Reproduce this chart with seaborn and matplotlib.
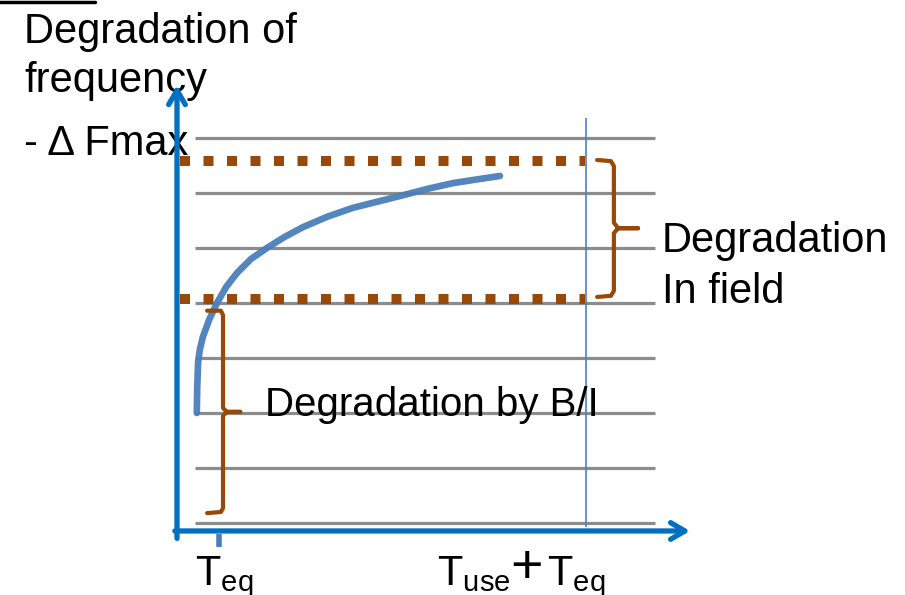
import numpy as np
import matplotlib
matplotlib.use('Agg')
import matplotlib.pyplot as plt
import seaborn as sns
import pandas as pd

sns.set_theme(style="white")
plt.rcParams['font.family'] = ['Liberation Sans', 'DejaVu Sans']
plt.rcParams['mathtext.fontset'] = 'custom'
plt.rcParams['mathtext.rm'] = 'Liberation Sans'

# degradation curve (time, -dF)
curve_t = [0.46, 0.47, 0.49, 0.53, 0.60, 0.75, 0.93, 1.15, 1.40, 1.72, 2.09, 2.50, 2.93, 3.50, 4.09, 4.70, 5.26, 5.85, 6.42, 7.00, 7.51]
curve_f = [2.00, 2.45, 2.91, 3.15, 3.38, 3.70, 4.00, 4.30, 4.55, 4.80, 5.00, 5.20, 5.38, 5.57, 5.73, 5.85, 5.96, 6.08, 6.18, 6.25, 6.31]

grid_levels = [0, 1, 2, 3, 4, 5, 6, 7]
dfmax_top = 6.58
dfmax_bot = 4.07
t_eq = 0.98
t_end = 9.51

# braces
brace_bi_x = [0.70, 1.02, 1.07, 1.07, 1.16, 1.47, 1.16, 1.07, 1.07, 1.02, 0.70]
brace_bi_y = [3.86, 3.86, 3.78, 2.09, 2.02, 2.02, 2.02, 1.95, 0.27, 0.20, 0.18]
brace_fd_x = [9.77, 10.09, 10.16, 10.16, 10.26, 10.72, 10.26, 10.16, 10.16, 10.09, 9.77]
brace_fd_y = [6.60, 6.58, 6.49, 5.46, 5.36, 5.36, 5.36, 5.27, 4.22, 4.13, 4.11]

blue = '#0070C0'
curve_c = '#4A7EBB'
brown = '#984807'
grey = '#8C8C8C'

fig = plt.figure(figsize=(9.05, 5.95), dpi=100)
ax = fig.add_axes([0, 0, 1, 1])
ax.set_xlim(-177 / 43, 728 / 43)
ax.set_ylim(-72 / 55, 523 / 55)
ax.axis('off')

# grey grid
ax.hlines(grid_levels, 0.42, 11.12, color=grey, lw=2.3, zorder=1)

# thin vertical line at Tuse+Teq
ax.vlines(t_end, -0.08, 7.36, color='#4F81BD', lw=1.2, zorder=2)

# dotted max lines
for lvl in [dfmax_top, dfmax_bot]:
    ax.plot([0.07, 9.49], [lvl, lvl], color=brown, lw=7.2, linestyle=(0, (1.0, 1.35)),
            solid_capstyle='butt', dash_capstyle='butt', zorder=3)

# curve
df = pd.DataFrame({'t': curve_t, 'f': curve_f})
sns.lineplot(data=df, x='t', y='f', ax=ax, sort=False, color=curve_c, lw=4.8, alpha=0.95, zorder=4)

# braces
ax.plot(brace_bi_x, brace_bi_y, color=brown, lw=3, solid_joinstyle='round', solid_capstyle='round', zorder=4)
ax.plot(brace_fd_x, brace_fd_y, color=brown, lw=3, solid_joinstyle='round', solid_capstyle='round', zorder=4)

# axes with arrows
arrow = '->,head_length=0.85,head_width=0.5'
ax.annotate('', xy=(0, 7.96), xytext=(0, -0.28),
            arrowprops=dict(arrowstyle=arrow, color=blue, lw=3.8, shrinkA=0, shrinkB=0), zorder=5)
ax.annotate('', xy=(11.93, -0.145), xytext=(-0.05, -0.145),
            arrowprops=dict(arrowstyle=arrow, color=blue, lw=3.8, shrinkA=0, shrinkB=0), zorder=5)

# Teq tick
ax.plot([t_eq, t_eq], [-0.2, -0.44], color=curve_c, lw=4, solid_capstyle='butt', zorder=5)

fs = 30
ax.text(-3.56, 8.727, 'Degradation of', fontsize=fs, va='baseline', ha='left', color='black')
ax.text(-3.56, 7.836, 'frequency', fontsize=fs, va='baseline', ha='left', color='black')
ax.text(-3.56, 6.69, '- \u0394 Fmax', fontsize=fs, va='baseline', ha='left', color='black')
ax.text(2.05, 1.945, 'Degradation by B/I', fontsize=29, va='baseline', ha='left', color='black')
ax.text(11.28, 4.93, 'Degradation', fontsize=fs, va='baseline', ha='left', color='black')
ax.text(11.28, 4.0, 'In field', fontsize=fs, va='baseline', ha='left', color='black')
ax.text(0.42, -1.127, r'T$_{\mathregular{eq}}$', fontsize=fs, va='baseline', ha='left', color='black')
ax.text(6.05, -1.127, r'T$_{\mathregular{use}}$', fontsize=fs, va='baseline', ha='left', color='black')
ax.text(7.76, -1.09, '+', fontsize=40, va='baseline', ha='left', color='black')
ax.text(8.60, -1.127, r'T$_{\mathregular{eq}}$', fontsize=fs, va='baseline', ha='left', color='black')

# small black bar at the top-left edge
fig.add_artist(plt.Line2D([0, 95 / 905], [1 - 1.5 / 595, 1 - 1.5 / 595], color='black', lw=2.5,
                          transform=fig.transFigure))

fig.savefig('out.png', dpi=100)
